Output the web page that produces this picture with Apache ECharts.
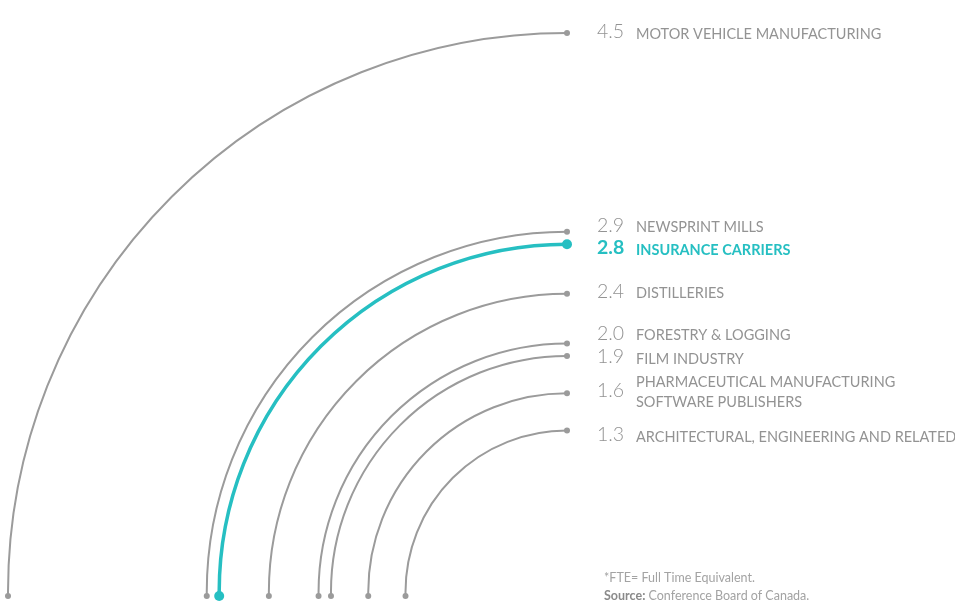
<!DOCTYPE html>
<html lang="en">
<head>
  <meta charset="UTF-8">
  <title>FTE by industry</title>
  <script src="https://cdn.jsdelivr.net/npm/echarts@6.0.0/dist/echarts.min.js"></script>
  <style>
    html, body { margin: 0; padding: 0; background: #fff; }
    #main { width: 955px; height: 606px; }
  </style>
</head>
<body>
  <div id="main"></div>
  <script>
    // values
    const industries = [
      'MOTOR VEHICLE MANUFACTURING',
      'NEWSPRINT MILLS',
      'INSURANCE CARRIERS',
      'DISTILLERIES',
      'FORESTRY & LOGGING',
      'FILM INDUSTRY',
      'PHARMACEUTICAL MANUFACTURING\nSOFTWARE PUBLISHERS',
      'ARCHITECTURAL, ENGINEERING AND RELATED'
    ];
    const fteValues = [4.5, 2.9, 2.8, 2.4, 2.0, 1.9, 1.6, 1.3];
    const highlight = 'INSURANCE CARRIERS';

    // layout only: vertical nudges (px) so close labels don't collide
    const labelNudge = [-1, -6.5, 4, -2.5, -10, 1, -3, 4.5];

    const GRAY = '#9b9b9b';
    const TEXT = '#939393';
    const TEAL = '#26bfc2';
    const FONT = 'Lato, "Open Sans", sans-serif';

    let myChart = echarts.init(document.getElementById('main'));

    function renderArc(params, api) {
      let i = params.dataIndex;
      let hi = industries[i] === highlight;
      let col = hi ? TEAL : GRAY;
      let lw = hi ? 3.5 : 2;
      let c = api.coord([0, 0]);
      let bottom = api.coord([api.value(0), 0]);
      let top = api.coord([0, api.value(1)]);
      let r = c[0] - bottom[0];
      let ty = top[1] + labelNudge[i];
      return {
        type: 'group',
        children: [
          { type: 'arc', shape: { cx: c[0], cy: c[1], r: r, startAngle: Math.PI, endAngle: Math.PI * 1.5 },
            style: { stroke: col, lineWidth: lw, fill: null } },
          { type: 'line', shape: { x1: bottom[0], y1: c[1], x2: bottom[0], y2: c[1] + 4 },
            style: { stroke: col, lineWidth: lw } },
          { type: 'circle', shape: { cx: bottom[0], cy: c[1] + 4, r: hi ? 5 : 3 }, style: { fill: col } },
          { type: 'circle', shape: { cx: top[0], cy: top[1], r: hi ? 5 : 3 }, style: { fill: col } },
          { type: 'text', x: top[0] + 30, y: ty,
            style: { text: api.value(1).toFixed(1), fill: hi ? TEAL : TEXT, fontFamily: FONT,
                     fontSize: 19.5, fontWeight: hi ? 'bold' : 300, verticalAlign: 'middle' } },
          { type: 'text', x: top[0] + 69, y: ty + 2,
            style: { text: industries[i], fill: hi ? TEAL : TEXT, fontFamily: FONT,
                     fontSize: 14.5, fontWeight: hi ? 'bold' : 'normal', lineHeight: 20,
                     verticalAlign: 'middle' } }
        ]
      };
    }

    let option = {
      animation: false,
      title: {
        left: 599,
        top: 564,
        text: '{a|*FTE= Full Time Equivalent.}\n{b|Source:}{a| Conference Board of Canada.}',
        textStyle: {
          fontWeight: 'normal',
          rich: {
            a: { fontFamily: FONT, fontSize: 12.5, color: '#a3a3a3', fontWeight: 'normal', lineHeight: 18 },
            b: { fontFamily: FONT, fontSize: 12.5, color: '#8a8a8a', fontWeight: 'bold', lineHeight: 18 }
          }
        }
      },
      grid: { left: 8, top: 33, width: 559, height: 559 },
      xAxis: { type: 'value', min: -4.5, max: 0, show: false },
      yAxis: { type: 'value', min: 0, max: 4.5, show: false },
      series: [{
        type: 'custom',
        clip: false,
        renderItem: renderArc,
        encode: { x: 0, y: 1 },
        data: fteValues.map(v => [-v, v])
      }]
    };
    myChart.setOption(option);
  </script>
</body>
</html>
